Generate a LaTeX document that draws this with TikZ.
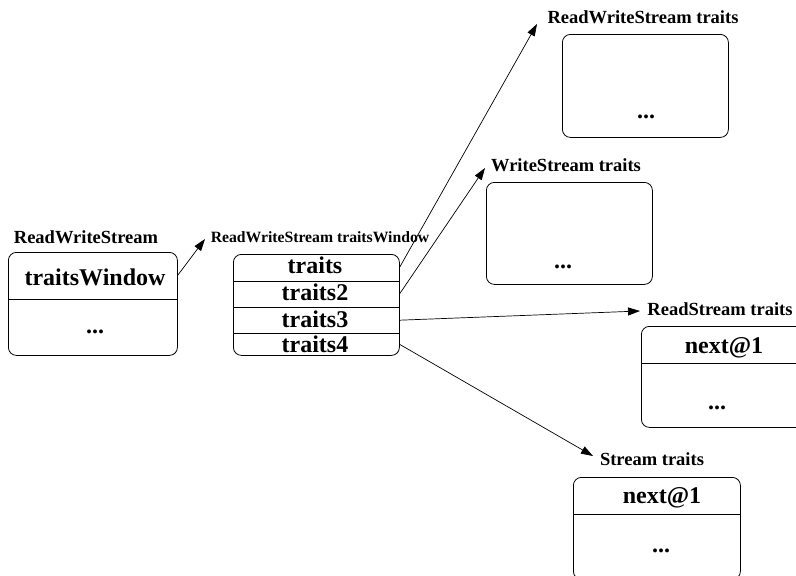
\documentclass[tikz,border=0pt]{standalone}
\usepackage{fontspec}
\setmainfont{Liberation Serif}
\usetikzlibrary{arrows.meta}
\begin{document}
\begin{tikzpicture}[x=1pt,y=-1pt,
  box/.style={draw, line width=0.8pt, rounded corners=8pt, inner sep=0pt, anchor=north west},
  row/.style={inner sep=0pt, anchor=north west},
  lbl/.style={font=\fontsize{18.5}{20}\selectfont\bfseries, anchor=base, inner sep=0pt},
  small/.style={font=\fontsize{15.7}{17}\selectfont\bfseries, anchor=base, inner sep=0pt},
  big/.style={font=\fontsize{24}{26}\selectfont\bfseries, anchor=base, inner sep=0pt},
  arr/.style={-{Triangle[length=12pt,width=8pt]}, line width=0.7pt},
  sep/.style={line width=0.8pt},
]
\useasboundingbox (0,0) rectangle (796,576);

% left box: ReadWriteStream
\node[lbl] (lrws) at (86,243) {ReadWriteStream};
\node[box, minimum width=169pt, minimum height=103pt] (rws) at (8,252) {};
\node[row, minimum width=169pt, minimum height=47pt] (rwsTop) at (8,252) {};
\draw[sep] (rwsTop.south west) -- (rwsTop.south east);
\node[big] (tw) at (95,285) {traitsWindow};
\node[big] (rwsdots) at (95,333) {...};

% middle box: traitsWindow
\node[small] (ltw) at (320,242) {ReadWriteStream traitsWindow};
\node[box, minimum width=166pt, minimum height=101pt] (mid) at (233,254) {};
\node[row, minimum width=166pt, minimum height=27pt] (r1) at (233,254) {};
\node[row, minimum width=166pt, minimum height=26pt] (r2) at (233,281) {};
\node[row, minimum width=166pt, minimum height=26pt] (r3) at (233,307) {};
\node[row, minimum width=166pt, minimum height=22pt] (r4) at (233,333) {};
\draw[sep] (r1.south west) -- (r1.south east);
\draw[sep] (r2.south west) -- (r2.south east);
\draw[sep] (r3.south west) -- (r3.south east);
\node[big] (x1) at (315,273) {traits};
\node[big] (x2) at (315,300) {traits2};
\node[big] (x3) at (315,327) {traits3};
\node[big] (x4) at (315,352) {traits4};

% ReadWriteStream traits
\node[lbl] (lrwst) at (643,23) {ReadWriteStream traits};
\node[box, minimum width=166pt, minimum height=103pt] (rwst) at (562,34) {};
\node[big] (rwstdots) at (646,118) {...};

% WriteStream traits
\node[lbl] (lwst) at (566,171) {WriteStream traits};
\node[box, minimum width=166pt, minimum height=102pt] (wst) at (486,182) {};
\node[big] (wstdots) at (563,268) {...};

% ReadStream traits
\node[lbl] (lrst) at (720,315) {ReadStream traits};
\node[box, minimum width=166pt, minimum height=101pt] (rst) at (641,326) {};
\node[row, minimum width=166pt, minimum height=37pt] (rstTop) at (641,326) {};
\draw[sep] (rstTop.south west) -- (rstTop.south east);
\node[big] (rstnext) at (724,353) {next@1};
\node[big] (rstdots) at (717,409) {...};

% Stream traits
\node[lbl] (lst) at (652,465) {Stream traits};
\node[box, minimum width=167pt, minimum height=102pt] (st) at (573,477) {};
\node[row, minimum width=167pt, minimum height=37pt] (stTop) at (573,477) {};
\draw[sep] (stTop.south west) -- (stTop.south east);
\node[big] (stnext) at (662,503) {next@1};
\node[big] (stdots) at (661,552) {...};

% arrow tips
\coordinate (t0) at (205,239);
\coordinate (t1) at (537,24);
\coordinate (t2) at (485,168);
\coordinate (t3) at (640,311);
\coordinate (t4) at (593,456);

\draw[arr] (rwsTop.east) -- (t0);
\draw[arr] (r1.east) -- (t1);
\draw[arr] (r2.east) -- (t2);
\draw[arr] (r3.east) -- (t3);
\draw[arr] (r4.east) -- (t4);
\end{tikzpicture}
\end{document}
